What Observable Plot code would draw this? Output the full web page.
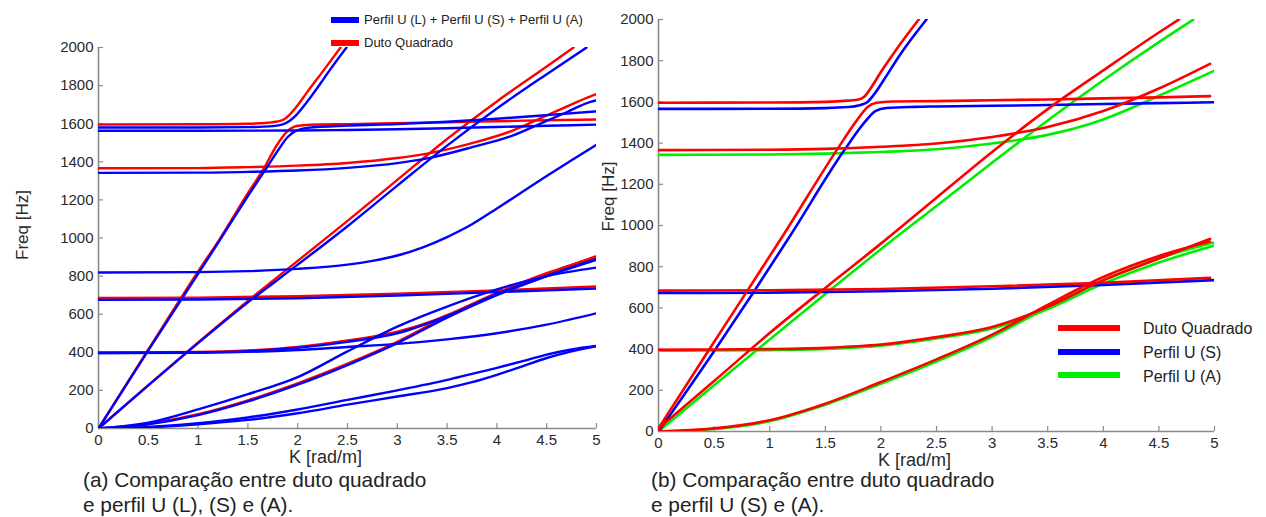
<!DOCTYPE html>
<html><head><meta charset="utf-8">
<script src="https://cdn.jsdelivr.net/npm/d3@7"></script>
<script src="https://cdn.jsdelivr.net/npm/@observablehq/plot@0.6"></script>
<style>
body{margin:0;background:#fff;}
#fig{position:relative;width:1266px;height:517px;overflow:hidden;font-family:"Liberation Sans",Arial,sans-serif;background:#fff;color:#222}
.p{position:absolute;top:0}
.cap{position:absolute;font-size:20.8px;line-height:25px;white-space:nowrap;color:#222}
.leg{position:absolute;white-space:nowrap;color:#222;line-height:1}
.sw{position:absolute}
</style></head><body><div id="fig"></div>
<script>
// ---- axis ticks ----
const kTicks = [0, 0.5, 1, 1.5, 2, 2.5, 3, 3.5, 4, 4.5, 5];
const fTicks = [0, 200, 400, 600, 800, 1000, 1200, 1400, 1600, 1800, 2000];

// ---- series names / colours ----
const seriesNames = ["Duto Quadrado", "Perfil U (L) + Perfil U (S) + Perfil U (A)", "Perfil U (S)", "Perfil U (A)"];
const seriesColors = ["#ff0000", "#0000ff", "#0000ff", "#00ee00"];

// ---- panel (a): Duto Quadrado (red) [K, Freq] ----
const aDutoSteep = [[0,0],[0.5,415],[1,825],[1.22,997],[1.5,1235],[1.66,1365],[1.79,1487],[1.89,1557],[1.99,1588],[2.2,1596],[2.5,1598],[3,1603],[3.5,1608],[4,1613],[4.5,1618],[5,1622]];
const aDuto1595 = [[0,1596],[1,1597],[1.5,1600],[1.7,1605],[1.8,1612],[1.86,1622],[1.92,1648],[1.99,1690],[2.09,1762],[2.26,1880],[2.43,2000]];
const aDuto1365 = [[0,1366],[1,1367],[1.5,1372],[2,1380],[2.5,1394],[3,1420],[3.3,1443],[3.76,1499],[4.17,1566],[4.44,1629],[4.7,1690],[4.94,1744],[5,1755]];
const aDutoLin2 = [[0,0],[0.5,228],[1,452],[1.5,670],[2,880],[2.5,1090],[3,1305],[3.5,1520],[4,1717],[4.5,1900],[4.77,2000]];
const aDuto690 = [[0,685],[1,687],[2,695],[3,708],[4,725],[5,746]];
const aDuto400 = [[0,399],[0.5,400],[1,402],[1.5,410],[2,428],[2.5,462],[3,508],[3.37,568],[3.5,595],[4,712],[4.5,815],[5,900]];
const aDutoFlex = [[0,0],[0.5,25],[1,75],[1.5,148],[2,237],[2.5,340],[3,455],[3.5,590],[4,708],[4.5,810],[5,905]];

// ---- panel (a): Perfil U (L)+(S)+(A) (blue) ----
const aU1580 = [[0,1580],[1,1580],[1.5,1582],[1.75,1587],[1.85,1596],[1.92,1615],[1.99,1648],[2.09,1712],[2.2,1790],[2.32,1880],[2.49,2000]];
const aU1562 = [[0,1563],[1,1563],[2,1564],[2.5,1567],[3,1571],[3.5,1576],[4,1583],[4.5,1589],[5,1595]];
const aUSteep = [[0,0],[0.5,410],[1,812],[1.22,990],[1.5,1220],[1.68,1362],[1.8,1458],[1.9,1530],[1.98,1562],[2.1,1578],[2.5,1590],[3,1598],[3.5,1610],[4,1626],[4.5,1645],[5,1665]];
const aU1340 = [[0,1342],[1,1343],[1.5,1347],[2,1354],[2.5,1368],[3,1393],[3.3,1418],[3.76,1478],[4.17,1540],[4.44,1601],[4.7,1660],[4.94,1715],[5,1722]];
const aULin2 = [[0,0],[0.5,226],[1,448],[1.5,662],[2,860],[2.5,1062],[3,1275],[3.5,1485],[4,1680],[4.5,1860],[4.9,2000]];
const aU820 = [[0,819],[1,821],[1.5,826],[2,838],[2.5,860],[2.75,880],[3,908],[3.25,950],[3.5,1005],[3.75,1072],[4,1155],[4.25,1240],[4.5,1325],[4.75,1408],[5,1490]];
const aU675 = [[0,675],[1,677],[2,684],[3,698],[4,716],[5,735]];
const aU400a = [[0,396],[0.5,397],[1,399],[1.5,406],[2,424],[2.5,455],[3,500],[3.5,590],[4,705],[4.5,800],[5,885]];
const aU400b = [[0,396],[1,398],[2,412],[2.5,428],[3,444],[3.5,468],[4,500],[4.5,545],[5,605]];
const aUMid = [[0,0],[0.5,30],[1,100],[1.5,180],[2,270],[2.5,405],[3,535],[3.5,640],[4,730],[4.5,800],[5,845]];
const aUFlex = [[0,0],[0.5,22],[1,70],[1.5,142],[2,230],[2.5,333],[3,448],[3.5,582],[4,700],[4.5,800],[5,890]];
const aULow1 = [[0,0],[0.5,8],[1,28],[1.5,58],[2,100],[2.5,150],[3,200],[3.5,255],[3.75,287],[4,318],[4.25,352],[4.5,388],[4.75,415],[5,433]];
const aULow2 = [[0,0],[0.5,6],[1,22],[1.5,45],[2,80],[2.5,125],[3,168],[3.5,212],[3.75,243],[4,282],[4.25,325],[4.5,370],[4.75,405],[5,432]];

// ---- panel (b): Duto Quadrado (red) ----
const bDutoSteep = [[0,15],[0.45,393],[0.8,684],[1.13,960],[1.61,1372],[1.79,1515],[1.88,1575],[1.96,1596],[2.1,1602],[2.5,1604],[3,1608],[3.5,1612],[4,1617],[4.5,1622],[4.96,1628]];
const bDuto1595 = [[0,1596],[1,1597],[1.5,1600],[1.7,1606],[1.8,1612],[1.85,1625],[1.9,1660],[2,1745],[2.12,1840],[2.34,2000]];
const bDuto1365 = [[0,1366],[1,1368],[1.5,1372],[2,1382],[2.5,1398],[3,1430],[3.5,1478],[4,1556],[4.5,1665],[4.96,1785]];
const bDutoLin2 = [[0,15],[0.5,245],[1,478],[1.5,697],[2,912],[2.5,1135],[3,1357],[3.5,1565],[4,1753],[4.5,1937],[4.68,2000]];
const bDuto690 = [[0,684],[1,686],[2,692],[3,705],[4,722],[4.96,746]];
const bDuto400 = [[0,397],[0.5,398],[1,400],[1.5,406],[2,422],[2.5,458],[3,507],[3.5,605],[4,735],[4.5,840],[4.96,935]];
const bDutoFlex = [[0,0],[0.5,15],[1,55],[1.5,135],[2,240],[2.5,350],[3,470],[3.5,615],[4,750],[4.5,852],[4.96,922]];

// ---- panel (b): Perfil U (S) (blue) ----
const bS1565 = [[0,1566],[1,1567],[1.5,1570],[1.7,1575],[1.8,1583],[1.88,1600],[1.95,1645],[2.03,1710],[2.18,1835],[2.41,2000]];
const bSSteep = [[0,0],[0.5,390],[0.85,672],[1.19,955],[1.67,1365],[1.86,1505],[1.95,1555],[2.05,1570],[2.3,1576],[2.5,1578],[3,1581],[3.5,1585],[4,1590],[4.5,1594],[5,1598]];
const bS672 = [[0,672],[1,674],[2,681],[3,693],[4,712],[5,735]];

// ---- panel (b): Perfil U (A) (green) ----
const bA1340 = [[0,1343],[1,1345],[1.5,1349],[2,1357],[2.5,1370],[3,1398],[3.5,1440],[4,1515],[4.5,1630],[5,1752]];
const bALin2 = [[0,0],[0.5,225],[1,447],[1.5,667],[2,885],[2.5,1095],[3,1305],[3.5,1510],[4,1705],[4.5,1890],[4.81,2000]];
const bA400 = [[0,392],[0.5,393],[1,395],[1.5,401],[2,417],[2.5,452],[3,500],[3.5,595],[4,718],[4.5,820],[5,903]];
const bAFlex = [[0,0],[0.5,12],[1,50],[1.5,130],[2,232],[2.5,340],[3,460],[3.5,602],[4,733],[4.5,840],[5,918]];

// ---- build tables ----
function table(groups) {
  const rows = [];
  let id = 0;
  for (const [si, curves] of groups) {
    for (const c of curves) {
      for (const [k, f] of c) rows.push({k, f, id, s: seriesNames[si]});
      id++;
    }
  }
  return rows;
}
const rowsA = table([
  [0, [aDutoSteep, aDuto1595, aDuto1365, aDutoLin2, aDuto690, aDuto400, aDutoFlex]],
  [1, [aU1580, aU1562, aUSteep, aU1340, aULin2, aU820, aU675, aU400a, aU400b, aUMid, aUFlex, aULow1, aULow2]]
]);
const rowsB = table([
  [3, [bA1340, bALin2, bA400, bAFlex]],
  [2, [bS1565, bSSteep, bS672]],
  [0, [bDutoSteep, bDuto1595, bDuto1365, bDutoLin2, bDuto690, bDuto400, bDutoFlex]]
]);

const fmt = d => String(d);
function panel(rows, o) {
  const innerW = o.width - o.ml - o.mr, innerH = o.height - o.mt - o.mb;
  return Plot.plot({
    width: o.width, height: o.height,
    marginTop: o.mt, marginRight: o.mr, marginBottom: o.mb, marginLeft: o.ml,
    style: {fontFamily: "'Liberation Sans', Arial, sans-serif", fontSize: "15px", color: "#2a2a2a", background: "transparent", overflow: "visible"},
    x: {domain: [0, 5]},
    y: {domain: [0, 2000]},
    color: {domain: seriesNames, range: seriesColors},
    marks: [
      Plot.axisX({ticks: kTicks, tickSize: 0, tickPadding: 6, tickFormat: fmt, label: null}),
      Plot.axisY({ticks: fTicks, tickSize: 0, tickPadding: 5, tickFormat: fmt, label: null}),
      Plot.tickX(kTicks, {x: d => d, stroke: "#8a8a8a", strokeWidth: 1.2, insetTop: innerH - 5}),
      Plot.tickY(fTicks, {y: d => d, stroke: "#8a8a8a", strokeWidth: 1.2, insetRight: innerW - 5}),
      Plot.ruleX([0], {stroke: "#8a8a8a", strokeWidth: 1.6}),
      Plot.ruleY([0], {stroke: "#8a8a8a", strokeWidth: 1.6}),
      Plot.line(rows, {x: "k", y: "f", z: "id", stroke: "s", strokeWidth: o.sw, curve: "monotone-x", clip: true}),
      Plot.text(["Freq [Hz]"], {frameAnchor: "left", dx: o.ylx, dy: o.yly, rotate: -90, fontSize: 17, fill: "#2a2a2a"}),
      Plot.text(["K [rad/m]"], {frameAnchor: "bottom", dx: o.xlx, dy: 34, fontSize: 18, fill: "#2a2a2a"})
    ]
  });
}

const fig = document.getElementById("fig");
const pa = panel(rowsA, {width: 610, height: 460, mt: 47, mr: 14, mb: 32, ml: 98, sw: 2.4, ylx: -76, yly: 22, xlx: -22});
pa.classList.add("p"); pa.style.left = "0px";
fig.appendChild(pa);
const pb = panel(rowsB, {width: 620, height: 460, mt: 19, mr: 26, mb: 29, ml: 38, sw: 2.6, ylx: -50, yly: 6, xlx: -22});
pb.classList.add("p"); pb.style.left = "620px";
fig.appendChild(pb);

function add(cls, html, css) {
  const d = document.createElement("div");
  d.className = cls; d.innerHTML = html;
  Object.assign(d.style, css);
  fig.appendChild(d);
}
// legend (a)
add("sw", "", {left: "331px", top: "17px", width: "28px", height: "6px", background: seriesColors[1]});
add("leg", seriesNames[1], {left: "364px", top: "13px", fontSize: "13px"});
add("sw", "", {left: "331px", top: "40px", width: "28px", height: "6px", background: seriesColors[0]});
add("leg", seriesNames[0], {left: "364px", top: "36px", fontSize: "13px"});
// legend (b)
add("sw", "", {left: "1058px", top: "325px", width: "62px", height: "6px", background: seriesColors[0]});
add("leg", seriesNames[0], {left: "1143px", top: "321px", fontSize: "16px"});
add("sw", "", {left: "1058px", top: "349px", width: "62px", height: "6px", background: seriesColors[2]});
add("leg", seriesNames[2], {left: "1143px", top: "345px", fontSize: "16px"});
add("sw", "", {left: "1058px", top: "372px", width: "62px", height: "6px", background: seriesColors[3]});
add("leg", seriesNames[3], {left: "1143px", top: "369px", fontSize: "16px"});
// captions
add("cap", "(a) Comparação entre duto quadrado<br>e perfil U (L), (S) e (A).", {left: "83px", top: "467px"});
add("cap", "(b) Comparação entre duto quadrado<br>e perfil U (S) e (A).", {left: "651px", top: "467px"});
</script>
</body></html>
